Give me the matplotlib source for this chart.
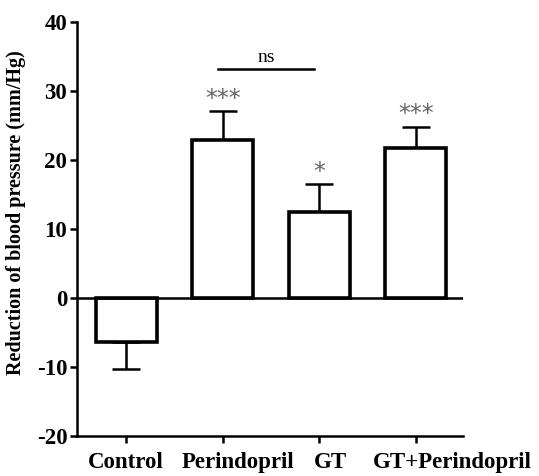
import matplotlib
matplotlib.use("Agg")
import matplotlib.pyplot as plt
import matplotlib.transforms as mtransforms

groups = ["Control", "Perindopril", "GT", "GT+Perindopril"]
means = [-6.4, 22.9, 12.4, 21.8]
errs = [3.9, 4.2, 4.1, 3.0]
stars = ["", "***", "*", "***"]
star_y = [None, 29.4, 18.8, 27.2]

plt.rcParams["font.family"] = ["Liberation Serif", "DejaVu Serif"]
plt.rcParams["axes.unicode_minus"] = False

fig = plt.figure(figsize=(5.39, 4.76), dpi=100)
ax = fig.add_axes([0.143, 0.084, 0.716, 0.870])

x = range(len(groups))
ax.bar(x, means, width=0.63, facecolor="white", edgecolor="black", linewidth=2.6, zorder=2)
for i, (m, e) in enumerate(zip(means, errs)):
    sign = 1 if m >= 0 else -1
    ax.errorbar(i, m, yerr=[[0 if sign > 0 else e], [e if sign > 0 else 0]],
                fmt="none", ecolor="black", elinewidth=1.8, capsize=10, capthick=1.8, zorder=1)

ax.axhline(0, color="black", linewidth=1.8, zorder=3)

for i, s in enumerate(stars):
    if s:
        ax.text(i, star_y[i] - 0.6, s, ha="center", va="center", color="#666666",
                fontsize=17, fontfamily="DejaVu Sans")

# ns bracket
ax.plot([0.95, 1.95], [33.2, 33.2], color="black", linewidth=1.8)
ax.text(1.45, 34.9, "ns", ha="center", va="center", fontsize=14)

ax.set_xlim(-0.51, 3.49)
ax.set_ylim(-20, 40)
ax.set_yticks([-20, -10, 0, 10, 20, 30, 40])
ax.set_xticks(list(x))
ax.set_xticklabels([])
# labels in the original sit a bit right of their ticks
shifts = [0, 0.16, 0.12, 0.38]
trans = mtransforms.blended_transform_factory(ax.transData, ax.transAxes)
for i, (g, dx) in enumerate(zip(groups, shifts)):
    ax.text(i + dx, -0.065, g, transform=trans, ha="center", va="center",
            fontsize=16.5, fontweight="bold", clip_on=False)
for lbl in ax.get_yticklabels():
    lbl.set_fontweight("bold")
    lbl.set_fontsize(16.5)
ax.set_ylabel("Reduction of blood pressure (mm/Hg)", fontsize=14.5, fontweight="bold")
ax.yaxis.set_label_coords(-0.132, 0.54)

for side in ["top", "right"]:
    ax.spines[side].set_visible(False)
for side in ["left", "bottom"]:
    ax.spines[side].set_linewidth(1.8)
ax.tick_params(width=1.8, length=5, direction="out")
ax.tick_params(axis="y", pad=2)

fig.savefig("out.png", dpi=100)
